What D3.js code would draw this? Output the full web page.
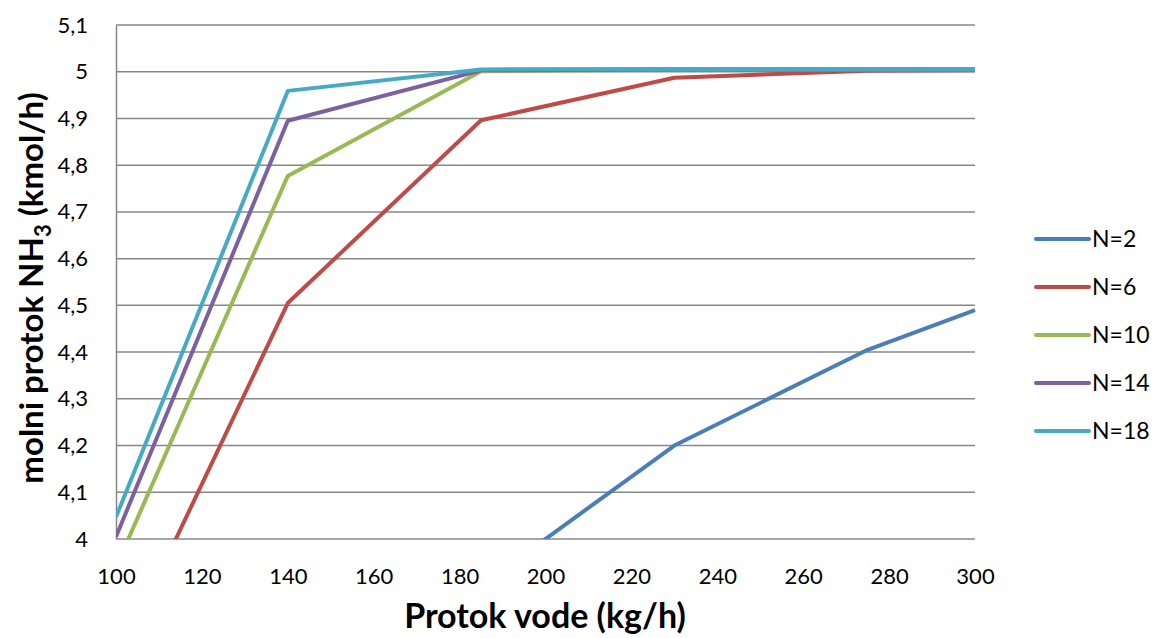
<!DOCTYPE html>
<html>
<head>
<meta charset="utf-8">
<script src="https://cdn.jsdelivr.net/npm/d3@7"></script>
<style>
  body { margin: 0; background: #fff; }
  #svg-container { width: 1153px; height: 638px; }
  text { font-family: Lato, "Open Sans", sans-serif; fill: #000; }
</style>
</head>
<body>
<div id="svg-container"></div>
<script>
////////////////////////////////////////////////////////////////////
////////////////////////////  Data  ////////////////////////////////
const flows = [100, 140, 185, 230, 275, 300];
const seriesNames = ["N=2", "N=6", "N=10", "N=14", "N=18"];
const n2 = [3.3, 3.62, 3.9, 4.2, 4.405, 4.49];
const n6 = [3.73, 4.505, 4.896, 4.987, 5.002, 5.003];
const n10 = [3.94, 4.777, 5.001, 5.004, 5.004, 5.004];
const n14 = [4.005, 4.895, 5.003, 5.005, 5.005, 5.005];
const n18 = [4.047, 4.959, 5.005, 5.006, 5.006, 5.006];
const xTicks = [100, 120, 140, 160, 180, 200, 220, 240, 260, 280, 300];
const yTicks = [4, 4.1, 4.2, 4.3, 4.4, 4.5, 4.6, 4.7, 4.8, 4.9, 5, 5.1];
const colors = ["#4a7ebb", "#be4b48", "#98b954", "#7d60a0", "#46aac5"];

const allSeries = [n2, n6, n10, n14, n18];

////////////////////////////////////////////////////////////////////
////////////////////////////  Init  ///////////////////////////////
const width = 1153;
const height = 638;
const margin = { top: 25, right: 178, bottom: 99, left: 116 };

const svg = d3
  .select("#svg-container")
  .append("svg")
  .attr("width", width)
  .attr("height", height);

// scale
const xScale = d3.scaleLinear().domain([100, 300]).range([margin.left, width - margin.right]);
const yScale = d3.scaleLinear().domain([4, 5.1]).range([height - margin.bottom, margin.top]);

const fmt = (d) => d3.format(".1~f")(d).replace(".", ",");

// gridlines
svg
  .append("g")
  .selectAll("line")
  .data(yTicks)
  .join("line")
  .attr("x1", margin.left)
  .attr("x2", width - margin.right)
  .attr("y1", (d) => yScale(d))
  .attr("y2", (d) => yScale(d))
  .attr("stroke", "#888")
  .attr("stroke-width", 1.5);

// axis
const yAxis = d3.axisLeft(yScale).tickValues(yTicks).tickFormat(fmt).tickSize(0).tickPadding(28);
const xAxis = d3.axisBottom(xScale).tickValues(xTicks).tickFormat(fmt).tickSize(0).tickPadding(29);

const gy = svg
  .append("g")
  .attr("transform", `translate(${margin.left},0)`)
  .call(yAxis);
gy.select(".domain").attr("stroke", "#888").attr("stroke-width", 1.5);
gy.selectAll("text").style("font-size", "22px").style("font-family", "Lato, sans-serif");

const gx = svg
  .append("g")
  .attr("transform", `translate(0,${height - margin.bottom})`)
  .call(xAxis);
gx.select(".domain").remove();
gx.selectAll("text").style("font-size", "22px").style("font-family", "Lato, sans-serif");

// lines
svg
  .append("clipPath")
  .attr("id", "plot-clip")
  .append("rect")
  .attr("x", margin.left)
  .attr("y", margin.top - 5)
  .attr("width", width - margin.right - margin.left + 2)
  .attr("height", height - margin.bottom - margin.top + 5);

const line = d3
  .line()
  .x((d, i) => xScale(flows[i]))
  .y((d) => yScale(d));

svg
  .append("g")
  .attr("clip-path", "url(#plot-clip)")
  .selectAll("path")
  .data(allSeries)
  .join("path")
  .attr("fill", "none")
  .attr("stroke", (d, i) => colors[i])
  .attr("stroke-width", 4)
  .attr("stroke-linejoin", "round")
  .attr("d", line);

// legend
const legend = svg
  .append("g")
  .selectAll("g")
  .data(seriesNames)
  .join("g")
  .attr("transform", (d, i) => `translate(1036,${239 + i * 48})`);

legend
  .append("line")
  .attr("x1", 0)
  .attr("x2", 53)
  .attr("stroke", (d, i) => colors[i])
  .attr("stroke-width", 4)
  .attr("stroke-linecap", "round");

legend
  .append("text")
  .attr("x", 56)
  .attr("dy", "0.35em")
  .attr("font-size", 23)
  .text((d) => d);

// axis titles
svg
  .append("text")
  .attr("x", 545)
  .attr("y", 628)
  .attr("text-anchor", "middle")
  .attr("font-size", 34)
  .attr("font-weight", "bold")
  .text("Protok vode (kg/h)");

const yTitle = svg
  .append("text")
  .attr("transform", "translate(43,288) rotate(-90)")
  .attr("text-anchor", "middle")
  .attr("font-size", 33)
  .attr("font-weight", "bold");
yTitle.append("tspan").text("molni protok NH");
yTitle.append("tspan").attr("font-size", 22).attr("dy", 8).text("3");
yTitle.append("tspan").attr("dy", -8).text(" (kmol/h)");
</script>
</body>
</html>
